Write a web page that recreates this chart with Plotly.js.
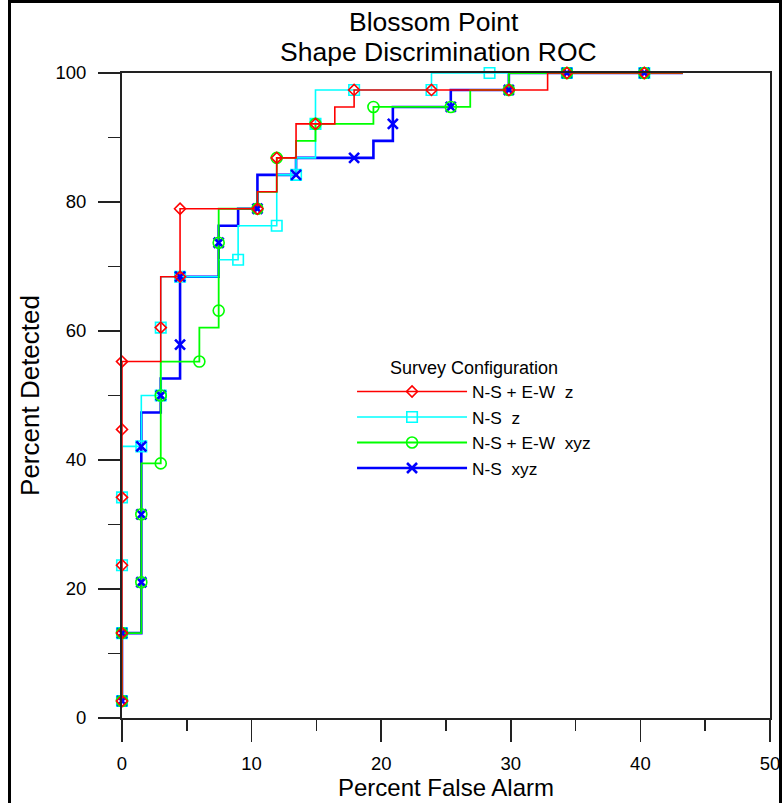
<!DOCTYPE html>
<html><head><meta charset="utf-8">
<script src="https://cdn.plot.ly/plotly-3.0.1.min.js"></script>
<style>html,body{margin:0;padding:0;background:#fff;}#chart{width:782px;height:803px;}</style>
</head><body><div id="chart"></div>
<script>
// Titles
const titleLines = ['Blossom Point', 'Shape Discrimination ROC'];
// Series names (legend)
const seriesNames = ['N-S + E-W\u00a0 z', 'N-S\u00a0 z', 'N-S + E-W\u00a0 xyz', 'N-S\u00a0 xyz'];

// Step-line vertices (Percent False Alarm, Percent Detected)
const redLineX = [0,0,0,0,0,0,2.99,2.99,2.99,4.48,4.48,10.45,10.45,11.94,11.94,13.43,13.43,14.93,16.42,16.42,17.91,17.91,23.88,29.85,32.84,32.84,34.33,40.30,43.28];
const redLineY = [2.63,13.16,23.68,34.21,44.74,55.26,55.26,60.53,68.42,68.42,78.95,78.95,81.58,81.58,86.84,86.84,92.11,92.11,92.11,94.74,94.74,97.37,97.37,97.37,97.37,100,100,100,100];
const cyanLineX = [0,0,0,0,0,1.49,1.49,2.99,2.99,2.99,4.48,7.46,7.46,8.96,8.96,11.94,11.94,13.43,13.43,14.93,14.93,14.93,17.91,23.88,23.88,28.36,34.33,40.30,43.28];
const cyanLineY = [2.63,13.16,23.68,34.21,42.11,42.11,50.00,50.00,60.53,68.42,68.42,68.42,71.05,71.05,76.32,76.32,84.21,84.21,86.84,86.84,92.11,97.37,97.37,97.37,100,100,100,100,100];
const greenLineX = [0,0,1.49,1.49,1.49,1.49,2.99,2.99,2.99,5.97,5.97,7.46,7.46,7.46,7.46,10.45,10.45,11.94,11.94,13.43,13.43,14.93,14.93,19.40,19.40,25.37,26.87,26.87,29.85,29.85,34.33,40.30,43.28];
const greenLineY = [2.63,13.16,13.16,21.05,31.58,39.47,39.47,50.00,55.26,55.26,60.53,60.53,63.16,73.68,78.95,78.95,81.58,81.58,86.84,86.84,89.47,89.47,92.11,92.11,94.74,94.74,94.74,97.37,97.37,100,100,100,100];
const blueLineX = [0,0,1.49,1.49,1.49,1.49,1.49,2.99,2.99,2.99,4.48,4.48,4.48,7.46,7.46,7.46,8.96,8.96,10.45,10.45,13.43,13.43,17.91,19.40,19.40,20.90,20.90,20.90,25.37,25.37,29.85,29.85,34.33,40.30,43.28];
const blueLineY = [2.63,13.16,13.16,21.05,31.58,42.11,47.37,47.37,50.00,52.63,52.63,57.89,68.42,68.42,73.68,76.32,76.32,78.95,78.95,84.21,84.21,86.84,86.84,86.84,89.47,89.47,92.11,94.74,94.74,97.37,97.37,100,100,100,100];

// Marked operating points
const redPtX = [0,0,0,0,0,0,2.99,4.48,4.48,10.45,11.94,14.93,17.91,23.88,29.85,34.33,40.30];
const redPtY = [2.63,13.16,23.68,34.21,44.74,55.26,60.53,68.42,78.95,78.95,86.84,92.11,97.37,97.37,97.37,100,100];
const cyanPtX = [0,0,0,0,1.49,2.99,2.99,4.48,8.96,11.94,13.43,14.93,17.91,23.88,28.36,34.33,40.30];
const cyanPtY = [2.63,13.16,23.68,34.21,42.11,50.00,60.53,68.42,71.05,76.32,84.21,92.11,97.37,97.37,100,100,100];
const greenPtX = [0,0,1.49,1.49,2.99,2.99,5.97,7.46,7.46,10.45,11.94,14.93,19.40,25.37,29.85,34.33,40.30];
const greenPtY = [2.63,13.16,21.05,31.58,39.47,50.00,55.26,63.16,73.68,78.95,86.84,92.11,94.74,94.74,97.37,100,100];
const bluePtX = [0,0,1.49,1.49,1.49,2.99,4.48,4.48,7.46,10.45,13.43,17.91,20.90,25.37,29.85,34.33,40.30];
const bluePtY = [2.63,13.16,21.05,31.58,42.11,50.00,57.89,68.42,73.68,78.95,84.21,86.84,92.11,94.74,97.37,100,100];

// Axis ticks
const xTickVals = [0,10,20,30,40,50];
const yTickVals = [0,20,40,60,80,100];

const FONT = 'Liberation Sans, Arial, sans-serif';

function gapped(a){ const o=[]; a.forEach(v=>{o.push(v); o.push(null);}); return o; }

const styles = {
  red:   {color:'#ff0000', lw:1.6, sym:'diamond-open', size:8.5, mlw:1.6, rank:1, name:seriesNames[0]},
  cyan:  {color:'#00ffff', lw:1.6, sym:'square-open', size:10.5, mlw:1.6, rank:2, name:seriesNames[1]},
  green: {color:'#00ff00', lw:1.8, sym:'circle-open', size:11, mlw:1.6, rank:3, name:seriesNames[2]},
  blue:  {color:'#0000ff', lw:2.6, sym:'x-thin-open', size:10, mlw:2.6, rank:4, name:seriesNames[3]}
};
const lines = {red:[redLineX,redLineY], cyan:[cyanLineX,cyanLineY], green:[greenLineX,greenLineY], blue:[blueLineX,blueLineY]};
const pts = {red:[redPtX,redPtY], cyan:[cyanPtX,cyanPtY], green:[greenPtX,greenPtY], blue:[bluePtX,bluePtY]};

const traces = [];
['blue','cyan','green','red'].forEach(k=>{
  const s = styles[k];
  traces.push({x:lines[k][0], y:lines[k][1], mode:'lines', type:'scatter', showlegend:false,
    legendgroup:k, line:{color:s.color, width:s.lw}, cliponaxis:false, hoverinfo:'skip'});
});
['cyan','blue','green','red'].forEach(k=>{
  const s = styles[k];
  traces.push({x:gapped(pts[k][0]), y:gapped(pts[k][1]), mode:'lines+markers', type:'scatter',
    name:s.name, legendgroup:k, legendrank:s.rank, connectgaps:false, cliponaxis:false,
    line:{color:s.color, width:s.lw},
    marker:{symbol:s.sym, size:s.size, color:s.color, line:{color:s.color, width:s.mlw}}});
});

const axisCommon = {
  showline:true, linecolor:'#222', linewidth:2, mirror:true, showgrid:false, zeroline:false,
  ticks:'outside', ticklen:22, tickwidth:1.6, tickcolor:'#222',
  tickfont:{family:FONT, size:18.5, color:'#000'}
};

const layout = {
  width:782, height:803, autosize:false,
  margin:{l:122, r:12, t:73, b:85, pad:0},
  paper_bgcolor:'#fff', plot_bgcolor:'#fff',
  font:{family:FONT, color:'#000'},
  xaxis:Object.assign({}, axisCommon, {range:[0,50], tickvals:xTickVals, ticktext:xTickVals.map(String),
    ticklabelstandoff:6,
    minor:{dtick:5, tick0:0, ticks:'outside', ticklen:11, tickwidth:1.6, tickcolor:'#222', showgrid:false},
    title:{text:'Percent False Alarm', font:{family:FONT, size:24, color:'#000'}, standoff:2}}),
  yaxis:Object.assign({}, axisCommon, {range:[0,100], tickvals:yTickVals, ticktext:yTickVals.map(String),
    ticklabelstandoff:8,
    minor:{dtick:10, tick0:0, ticks:'outside', ticklen:12, tickwidth:1.6, tickcolor:'#222', showgrid:false},
    title:{text:'Percent Detected', font:{family:FONT, size:26, color:'#000'}, standoff:8}}),
  legend:{x:0.355, xanchor:'left', y:0.57, yanchor:'top', bgcolor:'rgba(0,0,0,0)', borderwidth:0,
    itemwidth:110, tracegroupgap:0, font:{family:FONT, size:17.3, color:'#000'},
    title:{text:'Survey Configuration', side:'top center', font:{family:FONT, size:18, color:'#000'}}},
  annotations:[
    {text:titleLines[0], xref:'paper', yref:'paper', x:0.481, y:1.0791, xanchor:'center', yanchor:'middle',
      showarrow:false, font:{family:FONT, size:26.5, color:'#000'}},
    {text:titleLines[1], xref:'paper', yref:'paper', x:0.4877, y:1.0326, xanchor:'center', yanchor:'middle',
      showarrow:false, font:{family:FONT, size:26.5, color:'#000'}}
  ],
  shapes:[{type:'rect', xref:'paper', yref:'paper', x0:-0.1736, x1:1.0162, y0:-0.21, y1:1.1109,
    line:{color:'#000', width:3}, fillcolor:'rgba(0,0,0,0)', layer:'above'}],
  showlegend:true
};

Plotly.newPlot('chart', traces, layout, {displayModeBar:false, staticPlot:true});
</script></body></html>
